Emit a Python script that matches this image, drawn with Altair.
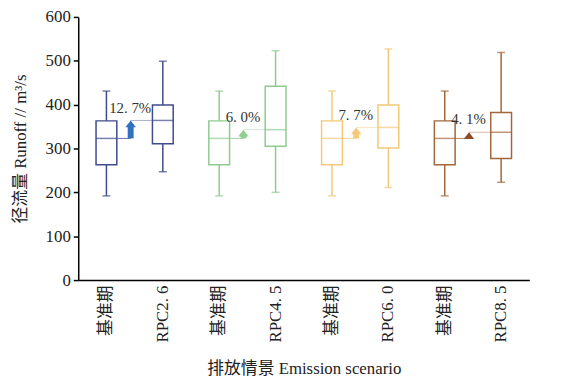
import altair as alt
import pandas as pd

# ---- data ----
baseline_label = "基准期"
scenarios = ["RPC2. 6", "RPC4. 5", "RPC6. 0", "RPC8. 5"]
colors = ["#3f4b8c", "#8fcb8f", "#f4c878", "#a2673a"]
arrow_colors = ["#2f72c0", "#8fd08f", "#f6c97a", "#8c4a22"]

baseline_stats = [192, 263, 323, 363, 431]  # min, q1, median, q3, max
scenario_stats = [
    [247, 311, 364, 399, 499],
    [200, 305, 343, 442, 523],
    [211, 301, 348, 399, 527],
    [223, 277, 337, 382, 519],
]
pct_labels = ["12. 7%", "6. 0%", "7. 7%", "4. 1%"]

# ---- tables ----
rows = []
order = []
arrows = []
for i, sc in enumerate(scenarios):
    bkey = f"{baseline_label}#{i}"
    skey = f"{sc}#s"
    order += [bkey, skey]
    for key, st in [(bkey, baseline_stats), (skey, scenario_stats[i])]:
        rows.append(dict(key=key, group=sc, lo=st[0], q1=st[1], med=st[2], q3=st[3], hi=st[4]))
    arrows.append(dict(bkey=bkey, skey=skey, group=sc, base=baseline_stats[2],
                       new=scenario_stats[i][2], label=pct_labels[i]))
boxes = pd.DataFrame(rows)
arr = pd.DataFrame(arrows)

FONT = "Liberation Serif, Noto Sans CJK SC"
AX = dict(labelFont=FONT, titleFont=FONT, labelFontSize=17, titleFontSize=17,
          labelColor="#222222", titleColor="#222222", titleFontWeight="normal")

xscale = alt.Scale(domain=order, paddingInner=0, paddingOuter=0)
x = alt.X("key:N", scale=xscale,
          axis=alt.Axis(title="排放情景 Emission scenario", labelExpr="split(datum.value, '#')[0]",
                        labelAngle=270, ticks=False, labelPadding=5, titlePadding=19,
                        domainColor="black", domainWidth=1.5, **AX))
y = alt.Y("lo:Q", scale=alt.Scale(domain=[0, 600]),
          axis=alt.Axis(title="径流量 Runoff // m³/s", values=[0, 100, 200, 300, 400, 500, 600],
                        grid=False, tickSize=5, tickColor="black", domainColor="black",
                        domainWidth=1.5, tickWidth=1.5, labelPadding=3, titlePadding=16, **AX))
color = alt.Color("group:N", scale=alt.Scale(domain=scenarios, range=colors), legend=None)
stroke = alt.Stroke("group:N", scale=alt.Scale(domain=scenarios, range=colors), legend=None)
afill = alt.Fill("group:N", scale=alt.Scale(domain=scenarios, range=arrow_colors), legend=None)

base = alt.Chart(boxes)
whisk = base.mark_rule(strokeWidth=1.5).encode(x=x, y=y, y2="hi:Q", color=color)
box = base.mark_bar(size=21, fill="white", strokeWidth=1.5).encode(
    x=x, y="q1:Q", y2="q3:Q", stroke=stroke)
med = base.mark_tick(size=21, thickness=1.5).encode(x=x, y="med:Q", color=color)
cap_lo = base.mark_tick(size=8, thickness=1.5).encode(x=x, y="lo:Q", color=color)
cap_hi = base.mark_tick(size=8, thickness=1.5).encode(x=x, y="hi:Q", color=color)

ab = alt.Chart(arr)
xb = alt.X("bkey:N", scale=xscale)
conn_lo = ab.mark_tick(size=14, thickness=1, opacity=0.8, xOffset=17.5).encode(
    x=xb, y="base:Q", color=color)
conn_hi = ab.mark_tick(size=22, thickness=1, opacity=0.45, xOffset=35.5).encode(
    x=xb, y="new:Q", color=color)
shaft = ab.mark_bar(size=6, xOffset=24.5, y2Offset=4).encode(
    x=xb, y="base:Q", y2="new:Q", fill=afill)
head = ab.mark_point(shape="M0,0 L1,1.3 L-1,1.3 Z", size=110, filled=True, opacity=1,
                     strokeWidth=0, xOffset=24.5).encode(x=xb, y="new:Q", fill=afill)
txt = ab.mark_text(font=FONT, fontSize=15, color="#333333", xOffset=24, dy=-13).encode(
    x=xb, y="new:Q", text="label:N")

chart = alt.layer(whisk, box, med, cap_lo, cap_hi, conn_lo, conn_hi, shaft, head, txt).properties(
    width=456, height=266,
    background="white",
    autosize=alt.AutoSizeParams(type="none"),
    padding={"left": 71, "top": 7, "right": 30, "bottom": 100},
).configure_view(stroke=None)

chart.save("out.html", embed_options={"renderer": "svg", "actions": False})
